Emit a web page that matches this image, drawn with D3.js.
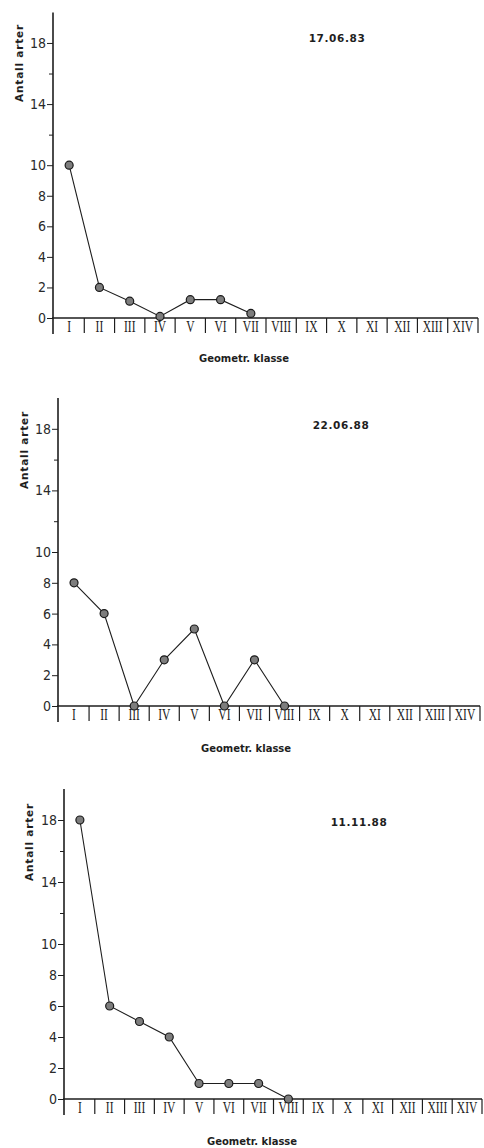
<!DOCTYPE html>
<html>
<head>
<meta charset="utf-8">
<script src="https://cdn.jsdelivr.net/npm/d3@7"></script>
<style>
  html, body { margin: 0; padding: 0; background: #fff; }
  svg { display: block; }
</style>
</head>
<body>
<svg id="chart" width="484" height="1148"></svg>
<script>
// ---- data ----
const categories = ["I","II","III","IV","V","VI","VII","VIII","IX","X","XI","XII","XIII","XIV"];
const dates = ["17.06.83", "22.06.88", "11.11.88"];
const values170683 = [10, 2, 1.1, 0.1, 1.2, 1.2, 0.3];
const values220688 = [8, 6, 0, 3, 5, 0, 3, 0];
const values111188 = [18, 6, 5, 4, 1, 1, 1, 0];
const yTickLabels = [0, 2, 4, 6, 8, 10, 14, 18];
const yMinorTicks = [12, 16];
const yLabel = "Antall arter";
const xLabel = "Geometr. klasse";

// ---- layout (per panel) ----
const panels = [
  { date: dates[0], values: values170683, axisX: 53, right: 478, y0: 318, unit: 15.28, ylabX: 19, ylabY: 63,  dateX: 337, dateY: 42,  xlabX: 244, xlabY: 362 },
  { date: dates[1], values: values220688, axisX: 58, right: 480, y0: 706, unit: 15.4,  ylabX: 24, ylabY: 450, dateX: 341, dateY: 429, xlabX: 246, xlabY: 752 },
  { date: dates[2], values: values111188, axisX: 64, right: 482, y0: 1099, unit: 15.5, ylabX: 29, ylabY: 842, dateX: 359, dateY: 826, xlabX: 252, xlabY: 1145 }
];

const svg = d3.select("#chart");
const ink = "#1e1e1e";

panels.forEach(p => {
  const g = svg.append("g");
  const y = d3.scaleLinear().domain([0, 20]).range([p.y0, p.y0 - 20 * p.unit]);
  const x = d3.scaleBand().domain(categories).range([p.axisX + 1, p.right]).paddingInner(0).paddingOuter(0);

  // y axis with labelled ticks
  const yAxis = d3.axisLeft(y).tickValues(yTickLabels).tickSize(6).tickPadding(1).tickFormat(d3.format("d"));
  const ya = g.append("g").attr("transform", `translate(${p.axisX},0)`).call(yAxis);
  ya.select(".domain").remove();
  ya.selectAll(".tick line").attr("stroke", ink).attr("stroke-width", 1);
  ya.selectAll(".tick text")
    .attr("fill", "#2a2a2a")
    .style("font-family", "'Liberation Sans Narrow', 'DejaVu Sans Condensed', sans-serif")
    .style("font-size", "14px");

  // minor ticks (unlabelled)
  const ym = d3.axisLeft(y).tickValues(yMinorTicks).tickSize(4).tickFormat("");
  const ymg = g.append("g").attr("transform", `translate(${p.axisX},0)`).call(ym);
  ymg.select(".domain").remove();
  ymg.selectAll(".tick line").attr("stroke", ink).attr("stroke-width", 1);

  // vertical axis line from top down below baseline
  g.append("line")
    .attr("x1", p.axisX).attr("x2", p.axisX)
    .attr("y1", y(20)).attr("y2", p.y0 + 16)
    .attr("stroke", ink).attr("stroke-width", 1.6);

  // baseline (x axis)
  g.append("line")
    .attr("x1", p.axisX - 1).attr("x2", p.right)
    .attr("y1", y(0)).attr("y2", y(0))
    .attr("stroke", ink).attr("stroke-width", 1.3);

  // separators between category cells
  const bounds = categories.map(c => x(c)).concat([x.range()[1]]);
  g.selectAll(".sep").data(bounds.slice(1)).enter().append("line")
    .attr("x1", d => d).attr("x2", d => d)
    .attr("y1", y(0)).attr("y2", y(0) + 15)
    .attr("stroke", ink).attr("stroke-width", 1.2);

  // category labels (condensed roman numerals)
  g.selectAll(".cat").data(categories).enter().append("text")
    .attr("transform", d => `translate(${x(d) + x.bandwidth() / 2},${y(0) + 14}) scale(0.72,1)`)
    .attr("text-anchor", "middle")
    .style("font-family", "'Liberation Serif', 'DejaVu Serif', serif")
    .style("font-size", "16px")
    .attr("fill", "#222")
    .text(d => d);

  // series line
  const pts = p.values.map((v, i) => ({ c: categories[i], v }));
  const line = d3.line().x(d => x(d.c) + x.bandwidth() / 2).y(d => y(d.v));
  g.append("path").datum(pts)
    .attr("d", line).attr("fill", "none")
    .attr("stroke", ink).attr("stroke-width", 1.1);

  g.selectAll(".pt").data(pts).enter().append("circle")
    .attr("cx", d => x(d.c) + x.bandwidth() / 2)
    .attr("cy", d => y(d.v))
    .attr("r", 4)
    .attr("fill", "#7d7d7d")
    .attr("stroke", "#1a1a1a").attr("stroke-width", 1.2);

  // y label
  g.append("text")
    .attr("transform", `translate(${p.ylabX},${p.ylabY}) rotate(-90)`)
    .attr("text-anchor", "middle")
    .attr("dy", "0.35em")
    .style("font-family", "'DejaVu Sans', sans-serif")
    .style("font-weight", "bold")
    .style("font-size", "10.5px")
    .style("letter-spacing", "0.8px")
    .attr("fill", "#1e1e1e")
    .text(yLabel);

  // date label
  g.append("text")
    .attr("x", p.dateX).attr("y", p.dateY)
    .attr("text-anchor", "middle")
    .style("font-family", "'DejaVu Sans', sans-serif")
    .style("font-weight", "bold")
    .style("font-size", "10.5px")
    .style("letter-spacing", "0.6px")
    .attr("fill", "#1e1e1e")
    .text(p.date);

  // x label
  g.append("text")
    .attr("x", p.xlabX).attr("y", p.xlabY)
    .attr("text-anchor", "middle")
    .style("font-family", "'DejaVu Sans', sans-serif")
    .style("font-weight", "bold")
    .style("font-size", "10px")
    .attr("fill", "#1e1e1e")
    .text(xLabel);
});
</script>
</body>
</html>
